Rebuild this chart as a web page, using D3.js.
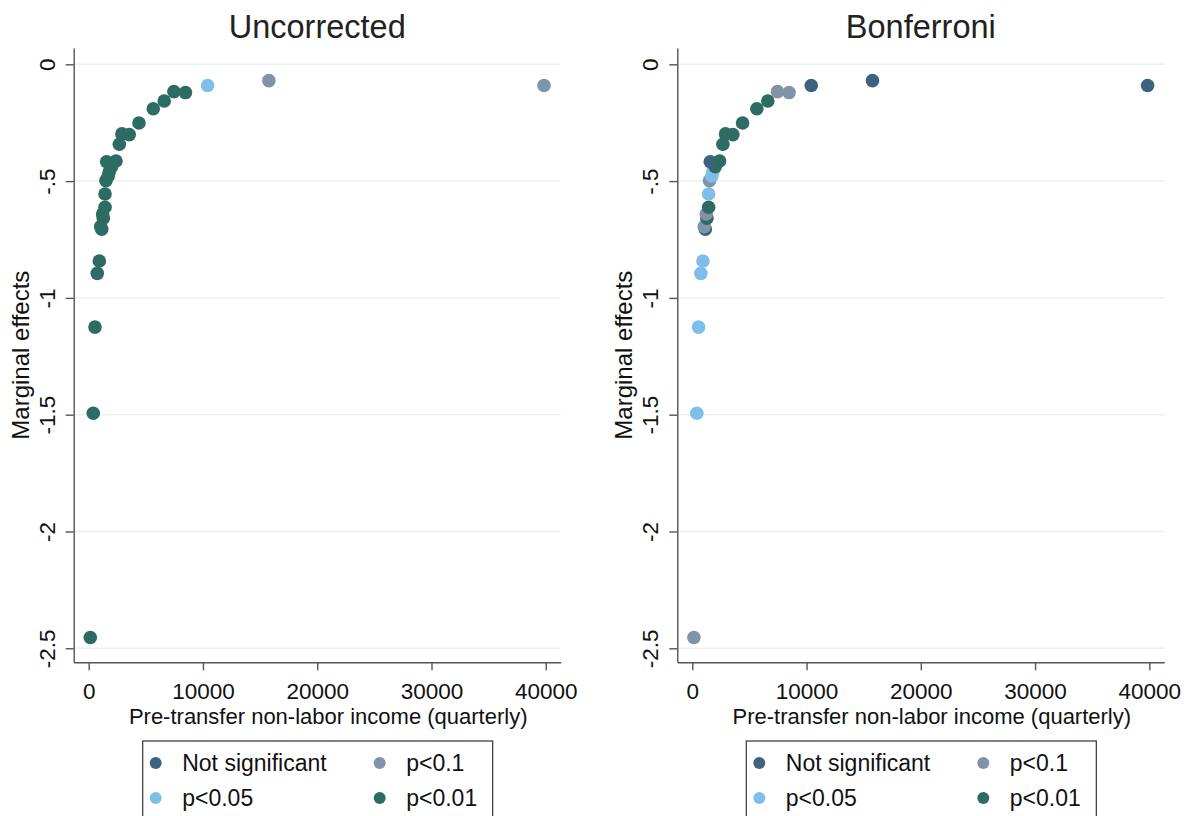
<!DOCTYPE html>
<html>
<head>
<meta charset="utf-8">
<script src="https://cdn.jsdelivr.net/npm/d3@7"></script>
<style>
  body { margin: 0; background: #fff; }
  svg { font-family: "Liberation Sans", Arial, sans-serif; }
</style>
</head>
<body>
<svg id="chart" width="1184" height="816"></svg>
<script>
// Data
const income = [140, 400, 550, 750, 930, 1140, 1050, 1280, 1220, 1430, 1430, 1510, 1710, 1800,
    2010, 1570, 2390, 2680, 2910, 3550, 4400, 5650, 6610, 7460, 8470, 10410, 15770, 39850];
const effect = [-2.454, -1.494, -1.125, -0.895, -0.842, -0.706, -0.695, -0.659, -0.641, -0.612,
    -0.555, -0.498, -0.478, -0.460, -0.438, -0.417, -0.414, -0.342, -0.298, -0.301, -0.251,
    -0.190, -0.157, -0.117, -0.121, -0.091, -0.070, -0.091];
const sigUncorrected = ["p<0.01", "p<0.01", "p<0.01", "p<0.01", "p<0.01", "p<0.01", "p<0.01",
    "p<0.01", "p<0.01", "p<0.01", "p<0.01", "p<0.01", "p<0.01", "p<0.01", "p<0.01", "p<0.01",
    "p<0.01", "p<0.01", "p<0.01", "p<0.01", "p<0.01", "p<0.01", "p<0.01", "p<0.01", "p<0.01",
    "p<0.05", "p<0.1", "p<0.1"];
const sigBonferroni = ["p<0.1", "p<0.05", "p<0.05", "p<0.05", "p<0.05", "p<0.01", "p<0.1",
    "p<0.01", "p<0.1", "p<0.01", "p<0.05", "p<0.1", "p<0.05", "p<0.05", "p<0.01",
    "Not significant", "p<0.01", "p<0.01", "p<0.01", "p<0.01", "p<0.01", "p<0.01", "p<0.01",
    "p<0.1", "p<0.1", "Not significant", "Not significant", "Not significant"];
const categories = ["Not significant", "p<0.1", "p<0.05", "p<0.01"];
const xTicks = [0, 10000, 20000, 30000, 40000];
const yTicks = [0, -0.5, -1, -1.5, -2, -2.5];
const yTickLabels = ["0", "-.5", "-1", "-1.5", "-2", "-2.5"];

const colors = d3.scaleOrdinal()
    .domain(categories)
    .range(["#3e6381", "#8193a9", "#7fbeea", "#2c6c62"]);

const svg = d3.select("#chart");
const plotTop = 48, plotBottom = 662.3, plotWidth = 487;

const yScale = d3.scaleLinear().domain([0.0698, -2.56]).range([plotTop, plotBottom]);

function drawPanel(left, title, sig) {
    const xScale = d3.scaleLinear().domain([-1312, 41310]).range([0, plotWidth]);
    const g = svg.append("g").attr("transform", `translate(${left},0)`);

    // gridlines
    g.selectAll(".grid")
        .data(yTicks)
        .enter().append("line")
        .attr("x1", 0).attr("x2", plotWidth)
        .attr("y1", d => yScale(d)).attr("y2", d => yScale(d))
        .attr("stroke", "#eaf1f3").attr("stroke-width", 1.5);

    // y axis
    const yAxis = g.append("g")
        .call(d3.axisLeft(yScale).tickValues(yTicks)
            .tickFormat((d, i) => yTickLabels[i]).tickSize(8).tickSizeOuter(0));
    yAxis.select(".domain").attr("stroke", "#555").attr("stroke-width", 1.4);
    yAxis.selectAll(".tick line").attr("stroke", "#555").attr("stroke-width", 1.4);
    yAxis.selectAll(".tick text")
        .attr("transform", "rotate(-90)")
        .attr("x", 0).attr("y", -19).attr("dy", 0)
        .attr("text-anchor", "middle")
        .attr("font-size", 22.5).attr("fill", "#111");

    // x axis
    const xAxis = g.append("g")
        .attr("transform", `translate(0,${plotBottom})`)
        .call(d3.axisBottom(xScale).tickValues(xTicks).tickFormat(d3.format("d")).tickSize(8).tickSizeOuter(0));
    xAxis.select(".domain").attr("stroke", "#555").attr("stroke-width", 1.4);
    xAxis.selectAll(".tick text")
        .attr("y", 36.5).attr("dy", 0)
        .attr("font-size", 22.5).attr("fill", "#111");
    xAxis.selectAll(".tick line").attr("stroke", "#555").attr("stroke-width", 1.4);

    // points
    g.selectAll(".pt")
        .data(income.map((d, i) => ({ x: d, y: effect[i], s: sig[i] })))
        .enter().append("circle")
        .attr("cx", d => xScale(d.x))
        .attr("cy", d => yScale(d.y))
        .attr("r", 6.8)
        .attr("fill", d => colors(d.s));

    // title and axis labels
    g.append("text")
        .attr("x", plotWidth / 2).attr("y", 38)
        .attr("text-anchor", "middle")
        .attr("font-size", 32.5).attr("fill", "#222")
        .text(title);

    g.append("text")
        .attr("x", plotWidth / 2 + 11).attr("y", 724)
        .attr("text-anchor", "middle")
        .attr("font-size", 22).attr("fill", "#111")
        .text("Pre-transfer non-labor income (quarterly)");

    g.append("text")
        .attr("transform", "rotate(-90)")
        .attr("x", -(plotTop + plotBottom) / 2)
        .attr("y", -45)
        .attr("text-anchor", "middle")
        .attr("font-size", 24).attr("fill", "#111")
        .text("Marginal effects");

    // legend
    const lg = g.append("g").attr("transform", "translate(69,741)");
    lg.append("rect")
        .attr("x", 0).attr("y", 0)
        .attr("width", 350).attr("height", 90)
        .attr("fill", "#fff").attr("stroke", "#333").attr("stroke-width", 1.2);
    const order = ["Not significant", "p<0.1", "p<0.05", "p<0.01"];
    const items = lg.selectAll(".item")
        .data(order)
        .enter().append("g")
        .attr("transform", (d, i) => `translate(${i % 2 === 0 ? 13 : 237},${i < 2 ? 22 : 57})`);
    items.append("circle").attr("r", 6).attr("fill", d => colors(d));
    items.append("text")
        .attr("x", 26.5).attr("y", 8)
        .attr("font-size", 23).attr("fill", "#111")
        .text(d => d);
}

drawPanel(73.7, "Uncorrected", sigUncorrected);
drawPanel(677.3, "Bonferroni", sigBonferroni);
</script>
</body>
</html>
